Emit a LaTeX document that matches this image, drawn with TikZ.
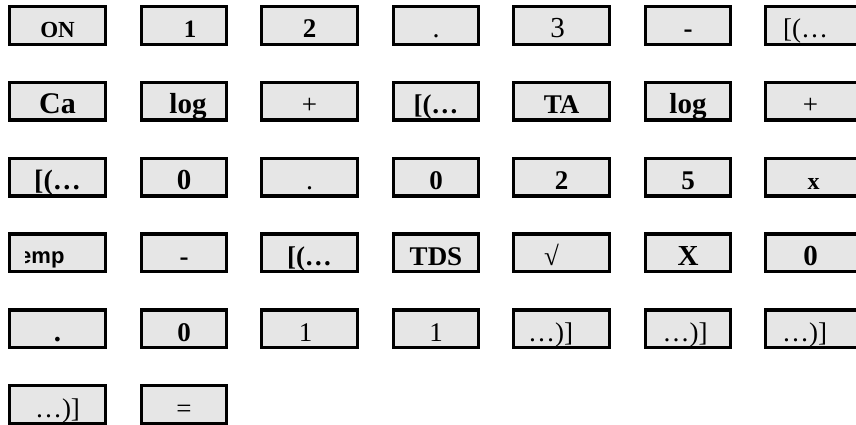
\documentclass[tikz,border=0pt]{standalone}
\usepackage{fontspec}
\setmainfont{Liberation Serif}
\newfontfamily\keysans{Liberation Sans}
\begin{document}
\begin{tikzpicture}[x=1pt, y=-1pt,
    key/.style={draw=black, fill=keygray, line width=3.3pt, inner sep=0pt, minimum height=37.7pt},
    tb/.style={anchor=base, yshift=8pt, font=\bfseries\fontsize{#1}{#1}\selectfont},
    tr/.style={anchor=base, yshift=8pt, font=\fontsize{#1}{#1}\selectfont},
  ]
  \definecolor{keygray}{HTML}{E6E6E6}
  \path[use as bounding box] (0,0) rectangle (856,425);
  % key grid
  \foreach \r/\n in {1/7,2/7,3/7,4/7,5/7,6/2} {
    \foreach \c in {1,...,\n} {
      \pgfmathsetmacro{\kx}{isodd(\c) ? 57.5+126*(\c-1) : 184+126*(\c-2)}
      \pgfmathsetmacro{\kw}{isodd(\c) ? 95.7 : 84.7}
      \node[key, minimum width=\kw pt] (k\r\c) at (\kx, {25.5+75.8*(\r-1)}) {};
    }
  }
  % row 1
  \node[tb=23] (t11) at (k11.south) {ON};
  \node[tb=25, xshift=6pt] (t12) at (k12.south) {1};
  \node[tb=27] (t13) at (k13.south) {2};
  \node[tr=28] (t14) at (k14.south) {.};
  \node[tr=29, xshift=-4pt] (t15) at (k15.south) {3};
  \node[tb=27] (t16) at (k16.south) {-};
  \node[tr=27, xshift=-8pt] (t17) at (k17.south) {[(…};
  % row 2
  \node[tb=30] (t21) at (k21.south) {Ca};
  \node[tb=29, xshift=4pt] (t22) at (k22.south) {log};
  \node[tr=27] (t23) at (k23.south) {+};
  \node[tb=27] (t24) at (k24.south) {[(…};
  \node[tb=27] (t25) at (k25.south) {TA};
  \node[tb=29] (t26) at (k26.south) {log};
  \node[tr=27, xshift=-3pt] (t27) at (k27.south) {+};
  % row 3
  \node[tb=28] (t31) at (k31.south) {[(…};
  \node[tb=29] (t32) at (k32.south) {0};
  \node[tr=28] (t33) at (k33.south) {.};
  \node[tb=27] (t34) at (k34.south) {0};
  \node[tb=27] (t35) at (k35.south) {2};
  \node[tb=27] (t36) at (k36.south) {5};
  \node[tb=24] (t37) at (k37.south) {x};
  % row 4
  \begin{scope}
    \clip (25,230) rectangle (106,276);
    \node[anchor=base east, font=\keysans\bfseries\fontsize{22}{22}\selectfont] (t41) at ([xshift=10.5pt, yshift=10.3pt]k41.south) {emp};
  \end{scope}
  \node[tb=27] (t42) at (k42.south) {-};
  \node[tb=27] (t43) at (k43.south) {[(…};
  \node[tb=27] (t44) at (k44.south) {TDS};
  \node[tr=27, xshift=-10pt] (t45) at (k45.south) {√};
  \node[tb=29] (t46) at (k46.south) {X};
  \node[tb=29, xshift=-3pt] (t47) at (k47.south) {0};
  % row 5
  \node[tb=29] (t51) at (k51.south) {.};
  \node[tb=27] (t52) at (k52.south) {0};
  \node[tr=27, xshift=-4pt] (t53) at (k53.south) {1};
  \node[tr=27] (t54) at (k54.south) {1};
  \node[tr=27, xshift=-11pt] (t55) at (k55.south) {…)]};
  \node[tr=27, xshift=-3pt] (t56) at (k56.south) {…)]};
  \node[tr=27, xshift=-9pt] (t57) at (k57.south) {…)]};
  % row 6
  \node[tr=27] (t61) at (k61.south) {…)]};
  \node[tr=27] (t62) at (k62.south) {=};
\end{tikzpicture}
\end{document}
